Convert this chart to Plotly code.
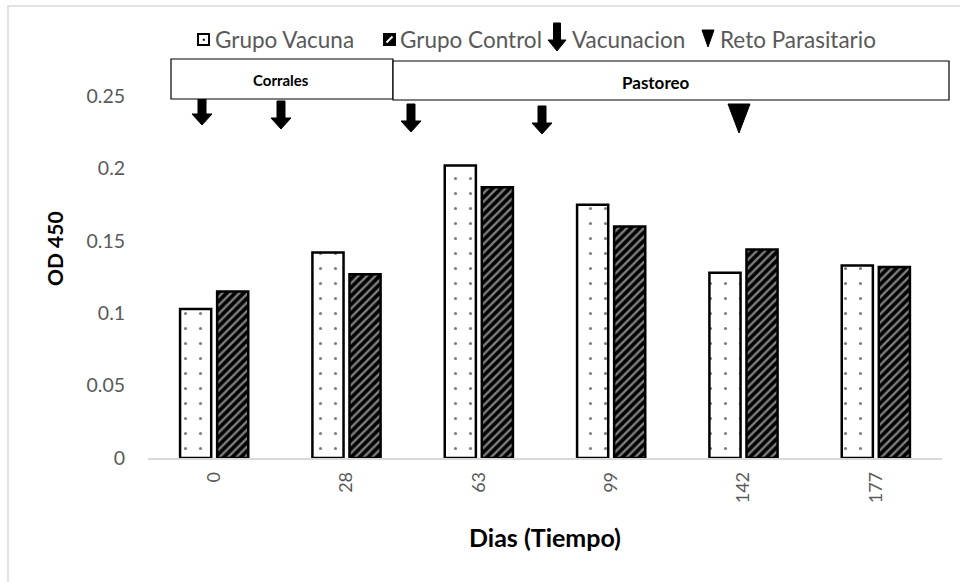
import plotly.graph_objects as go

dias = ["0", "28", "63", "99", "142", "177"]
grupo_vacuna = [0.103, 0.142, 0.202, 0.175, 0.128, 0.133]
grupo_control = [0.115, 0.127, 0.187, 0.160, 0.144, 0.132]

W, H = 960, 582
L, R, T, B = 148, 942, 96, 458


def px(x):
    return (x - L) / (R - L)


def py(y):
    return (B - y) / (B - T)


GRAY = "#595959"
FONT = "Lato, Liberation Sans, sans-serif"

fig = go.Figure()
fig.add_trace(go.Bar(
    x=dias, y=grupo_vacuna, name="Grupo Vacuna",
    marker=dict(color="white", line=dict(color="black", width=2.5),
                pattern=dict(shape=".", fgcolor="black", bgcolor="white", size=15, solidity=0.035)),
    showlegend=False,
))
fig.add_trace(go.Bar(
    x=dias, y=grupo_control, name="Grupo Control",
    marker=dict(color="black", line=dict(color="black", width=2.5),
                pattern=dict(shape="/", fgcolor="white", fillmode="overlay", size=6, solidity=0.4)),
    showlegend=False,
))

shapes = []
annotations = []

# outer chart border
shapes.append(dict(type="rect", xref="paper", yref="paper",
                   x0=px(8), x1=px(975), y0=py(6), y1=py(595),
                   line=dict(color="#d9d9d9", width=1.5), layer="below"))


def down_arrow(cx, top, h=28, shaft=8, head=20, headh=11):
    bot = top + h
    hs = bot - headh
    pts = [(cx - shaft / 2, top), (cx + shaft / 2, top), (cx + shaft / 2, hs),
           (cx + head / 2, hs), (cx, bot), (cx - head / 2, hs), (cx - shaft / 2, hs)]
    path = "M " + " L ".join(f"{px(x):.5f},{py(y):.5f}" for x, y in pts) + " Z"
    return dict(type="path", xref="paper", yref="paper", path=path,
                fillcolor="black", line=dict(color="black", width=1))


def tri(cx, top, bot, w):
    pts = [(cx - w / 2, top), (cx + w / 2, top), (cx, bot)]
    path = "M " + " L ".join(f"{px(x):.5f},{py(y):.5f}" for x, y in pts) + " Z"
    return dict(type="path", xref="paper", yref="paper", path=path,
                fillcolor="black", line=dict(color="black", width=1))


# vaccination arrows and challenge marker
for cx, top in [(202, 97), (281, 101), (411, 104), (542, 106)]:
    shapes.append(down_arrow(cx, top))
shapes.append(tri(739, 104, 133, 22))

# phase boxes
shapes.append(dict(type="rect", xref="paper", yref="paper",
                   x0=px(171), x1=px(393), y0=py(99), y1=py(59),
                   line=dict(color="black", width=1.2), fillcolor="white"))
shapes.append(dict(type="rect", xref="paper", yref="paper",
                   x0=px(393), x1=px(949), y0=py(100), y1=py(61),
                   line=dict(color="black", width=1.2), fillcolor="white"))
annotations.append(dict(text="<b>Corrales</b>", x=px(281), y=py(80), xref="paper", yref="paper",
                        xanchor="center", yanchor="middle",
                        showarrow=False, font=dict(family=FONT, size=15, color="black")))
annotations.append(dict(text="<b>Pastoreo</b>", x=px(656), y=py(82), xref="paper", yref="paper",
                        xanchor="center", yanchor="middle",
                        showarrow=False, font=dict(family=FONT, size=17, color="black")))

# custom legend
shapes.append(dict(type="rect", xref="paper", yref="paper",
                   x0=px(198), x1=px(209), y0=py(45), y1=py(34),
                   line=dict(color="black", width=2), fillcolor="white"))
shapes.append(dict(type="rect", xref="paper", yref="paper",
                   x0=px(203), x1=px(204.5), y0=py(40.5), y1=py(39),
                   line=dict(color="black", width=0.5), fillcolor="black"))
shapes.append(dict(type="rect", xref="paper", yref="paper",
                   x0=px(384), x1=px(395), y0=py(45), y1=py(34),
                   line=dict(color="black", width=2), fillcolor="black"))
shapes.append(dict(type="line", xref="paper", yref="paper",
                   x0=px(386.5), x1=px(392.5), y0=py(42.5), y1=py(36.5),
                   line=dict(color="white", width=2)))
shapes.append(down_arrow(557, 23, h=28, shaft=7, head=18, headh=11))
shapes.append(tri(708, 30, 47, 12))

leg_font = dict(family=FONT, size=22.5, color=GRAY)
for txt, x0 in [("Grupo Vacuna", 213), ("Grupo Control", 398), ("Vacunacion", 570), ("Reto Parasitario", 718)]:
    annotations.append(dict(text=txt, x=px(x0), y=py(40), xref="paper", yref="paper",
                            xanchor="left", yanchor="middle", showarrow=False, font=leg_font))

# axis titles
annotations.append(dict(text="<b>OD 450</b>", x=px(54), y=py(249), xref="paper", yref="paper",
                        xanchor="center", yanchor="middle", textangle=-90, showarrow=False,
                        font=dict(family=FONT, size=21, color="black")))
annotations.append(dict(text="<b>Dias (Tiempo)</b>", x=px(545), y=py(537), xref="paper", yref="paper",
                        xanchor="center", yanchor="middle", showarrow=False,
                        font=dict(family=FONT, size=25, color="black")))

fig.update_layout(
    width=W, height=H,
    margin=dict(l=L, r=W - R, t=T, b=H - B, pad=0),
    paper_bgcolor="white", plot_bgcolor="white",
    barmode="group", bargap=0.44, bargroupgap=0.16,
    showlegend=False,
    shapes=shapes, annotations=annotations,
    xaxis=dict(
        type="category", showgrid=False, zeroline=False,
        showline=True, linecolor="#d9d9d9", linewidth=1.5,
        ticks="outside", ticklen=5, tickcolor="rgba(0,0,0,0)", tickangle=-90,
        tickfont=dict(family=FONT, size=18, color=GRAY),
    ),
    yaxis=dict(
        range=[0, 0.2501], showgrid=False, zeroline=False, showline=False,
        tickvals=[0, 0.05, 0.1, 0.15, 0.2, 0.25],
        ticktext=["0", "0.05", "0.1", "0.15", "0.2", "0.25"],
        ticks="outside", ticklen=18, tickcolor="rgba(0,0,0,0)",
        tickfont=dict(family=FONT, size=19.5, color=GRAY),
    ),
)

fig.write_html("out.html", config={"displayModeBar": False},
               post_script="document.body.style.margin='0';")
